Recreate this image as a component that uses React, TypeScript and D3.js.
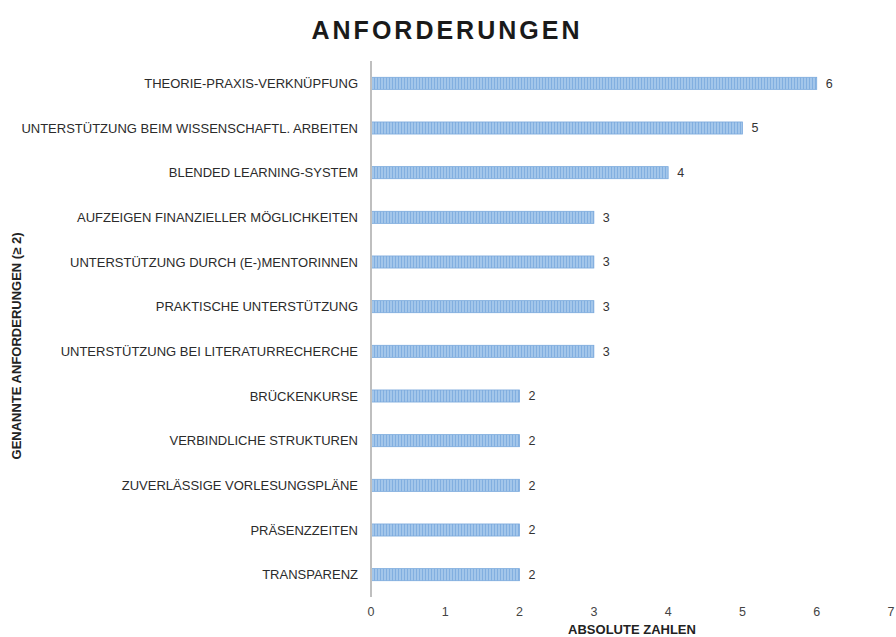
import { useEffect, useRef } from 'react';
import * as d3 from 'd3';

const categories = [
  'THEORIE-PRAXIS-VERKNÜPFUNG',
  'UNTERSTÜTZUNG BEIM WISSENSCHAFTL. ARBEITEN',
  'BLENDED LEARNING-SYSTEM',
  'AUFZEIGEN FINANZIELLER MÖGLICHKEITEN',
  'UNTERSTÜTZUNG DURCH (E-)MENTORINNEN',
  'PRAKTISCHE UNTERSTÜTZUNG',
  'UNTERSTÜTZUNG BEI LITERATURRECHERCHE',
  'BRÜCKENKURSE',
  'VERBINDLICHE STRUKTUREN',
  'ZUVERLÄSSIGE VORLESUNGSPLÄNE',
  'PRÄSENZZEITEN',
  'TRANSPARENZ',
];

const values = [6, 5, 4, 3, 3, 3, 3, 2, 2, 2, 2, 2];

const xTicks = [0, 1, 2, 3, 4, 5, 6, 7];

const WIDTH = 896;
const HEIGHT = 637;
const FONT = 'Liberation Sans, Arial, sans-serif';

export default function App() {
  const svgRef = useRef<SVGSVGElement>(null);

  useEffect(() => {
    if (!svgRef.current) return;
    const svg = d3.select(svgRef.current);
    svg.selectAll('*').remove();

    const margin = { top: 61, left: 371 };
    const plotH = 536;

    // striped fill like the original
    const defs = svg.append('defs');
    const pat = defs
      .append('pattern')
      .attr('id', 'stripes')
      .attr('patternUnits', 'userSpaceOnUse')
      .attr('width', 3)
      .attr('height', 4);
    pat.append('rect').attr('width', 3).attr('height', 4).attr('fill', '#a3c6ea');
    pat.append('rect').attr('width', 1).attr('height', 4).attr('fill', '#82afe0');

    const g = svg
      .append('g')
      .attr('transform', `translate(${margin.left},${margin.top})`);

    const xScale = d3.scaleLinear().domain([0, 7]).range([0, 520]);

    const yScale = d3
      .scaleBand()
      .domain(categories)
      .range([0, plotH])
      .paddingInner(0.73)
      .paddingOuter(0.365);

    const data = categories.map((c, i) => ({ name: c, value: values[i] }));

    // bars
    g.selectAll('rect.bar')
      .data(data)
      .join('rect')
      .attr('class', 'bar')
      .attr('x', 0)
      .attr('y', (d) => yScale(d.name) || 0)
      .attr('height', yScale.bandwidth())
      .attr('width', (d) => xScale(d.value))
      .attr('fill', 'url(#stripes)')
      .attr('stroke', '#7aa9dc')
      .attr('stroke-width', 0.8);

    // value labels
    g.selectAll('.bar-label')
      .data(data)
      .join('text')
      .attr('class', 'bar-label')
      .attr('x', (d) => xScale(d.value) + 9)
      .attr('y', (d) => (yScale(d.name) || 0) + yScale.bandwidth() / 2)
      .attr('dy', '0.35em')
      .attr('font-size', '12.5px')
      .attr('font-family', FONT)
      .attr('fill', '#333')
      .text((d) => d.value);

    // category labels
    g.selectAll('.cat-label')
      .data(data)
      .join('text')
      .attr('class', 'cat-label')
      .attr('x', -13)
      .attr('y', (d) => (yScale(d.name) || 0) + yScale.bandwidth() / 2)
      .attr('dy', '0.35em')
      .attr('text-anchor', 'end')
      .attr('font-size', '13px')
      .attr('font-family', FONT)
      .attr('fill', '#2b2b2b')
      .text((d) => d.name);

    // vertical axis line
    g.append('line')
      .attr('x1', 0)
      .attr('x2', 0)
      .attr('y1', 0)
      .attr('y2', plotH)
      .attr('stroke', '#bfbfbf')
      .attr('stroke-width', 2);

    // x tick labels
    g.selectAll('.x-tick')
      .data(xTicks)
      .join('text')
      .attr('class', 'x-tick')
      .attr('x', (d) => xScale(d))
      .attr('y', 555)
      .attr('text-anchor', 'middle')
      .attr('font-size', '12.5px')
      .attr('font-family', FONT)
      .attr('fill', '#444')
      .text((d) => d);

    // x axis title
    svg
      .append('text')
      .attr('x', 632)
      .attr('y', 634)
      .attr('text-anchor', 'middle')
      .attr('font-size', '13px')
      .attr('font-weight', 'bold')
      .attr('font-family', FONT)
      .attr('fill', '#222')
      .text('ABSOLUTE ZAHLEN');

    // y axis title
    svg
      .append('text')
      .attr('transform', `translate(21,346) rotate(-90)`)
      .attr('text-anchor', 'middle')
      .attr('font-size', '13px')
      .attr('font-weight', 'bold')
      .attr('font-family', FONT)
      .attr('fill', '#222')
      .text('GENANNTE ANFORDERUNGEN (≥ 2)');

    // chart title
    svg
      .append('text')
      .attr('x', 447)
      .attr('y', 39)
      .attr('text-anchor', 'middle')
      .attr('font-size', '25px')
      .attr('font-weight', 'bold')
      .attr('letter-spacing', '3px')
      .attr('font-family', FONT)
      .attr('fill', '#1a1a1a')
      .text('ANFORDERUNGEN');
  }, []);

  return (
    <div style={{ position: 'absolute', left: 0, top: 0 }}>
      <svg ref={svgRef} width={WIDTH} height={HEIGHT} style={{ display: 'block', background: '#fff' }} />
    </div>
  );
}
